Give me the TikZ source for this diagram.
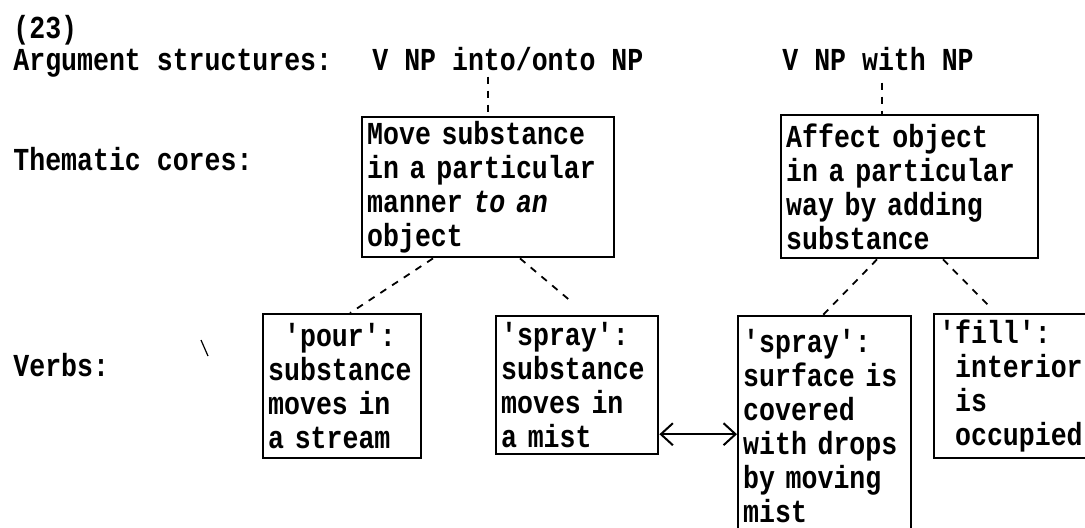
\documentclass[tikz,border=0pt]{standalone}
\usepackage{fontspec}
\newfontfamily\typer[FakeStretch=0.83]{Liberation Mono}
\newcommand\typeface{\typer\bfseries\fontsize{16}{17}\selectfont\spaceskip=\fontcharwd\font`\x\relax}
\usetikzlibrary{arrows.meta}

\begin{document}
\begin{tikzpicture}[x=0.5pt,y=-0.5pt,
  every node/.style={font=\typeface},
  lbl/.style={anchor=base west,inner sep=0pt},
  wordbox/.style={draw,line width=1.2pt,anchor=north west,align=left,inner xsep=2.5pt,inner ysep=0pt},
  link/.style={line width=0.9pt,dash pattern=on 3.5pt off 3.5pt}]
\useasboundingbox (0,0) rectangle (1085,527);
\clip (0,0) rectangle (1085,527);
\node[lbl] (num) at (13,38) {(23)};
\node[lbl] (argstr) at (13,70) {Argument structures:};
\node[lbl] (thcores) at (13,170) {Thematic cores:};
\node[lbl] (verbs) at (13,376) {Verbs:};
\node[lbl] (intoNP) at (372,70) {V NP into/onto NP};
\node[lbl] (withNP) at (782,70) {V NP with NP};
\node[wordbox,text width=121pt,minimum height=70pt] (movecore) at (361,116) {Move substance\\in a particular\\manner \textit{to an}\\object};
\node[wordbox,text width=123.5pt,minimum height=71.5pt] (affectcore) at (780,114) {Affect object\\in a particular\\way by adding\\substance};
\node[wordbox,text width=74pt,minimum height=72pt] (pour) at (262,313) {\hphantom{x}'pour':\\substance\\moves in\\a stream};
\node[wordbox,text width=76pt,minimum height=69pt] (mist) at (495,315) {'spray':\\substance\\moves in\\a mist};
\node[wordbox,text width=81.5pt,minimum height=110pt] (surface) at (737,315) {'spray':\\surface is\\covered\\with drops\\by moving\\mist};
\node[wordbox,text width=80pt,minimum height=72pt] (fillverb) at (933,313) {'fill':\\\hphantom{x}interior\\\hphantom{x}is\\\hphantom{x}occupied};
\draw[link] ([yshift=-3pt]movecore.north |- intoNP.south) -- (movecore.north);
\draw[link] ([xshift=-14pt,yshift=-6pt]affectcore.north |- withNP.south) -- ([xshift=-14pt]affectcore.north);
\draw[link] ([xshift=36pt]movecore.south west) -- ([xshift=44pt]pour.north west);
\draw[link] ([xshift=79.5pt]movecore.south west) -- ([xshift=39pt,yshift=6pt]mist.north west);
\draw[link] ([xshift=48.5pt]affectcore.south west) -- ([xshift=43pt]surface.north west);
\draw[link] ([xshift=81.5pt]affectcore.south west) -- ([xshift=28.5pt,yshift=3pt]fillverb.north west);
\draw[line width=1pt,{Straight Barb[length=6pt,width=11pt]}-{Straight Barb[length=6pt,width=11pt]}] ([yshift=-24.5pt]mist.east) -- ([yshift=-24.5pt]mist.east -| surface.west);
\draw[line width=0.6pt] (201,340) -- (208,356);
\end{tikzpicture}
\end{document}
